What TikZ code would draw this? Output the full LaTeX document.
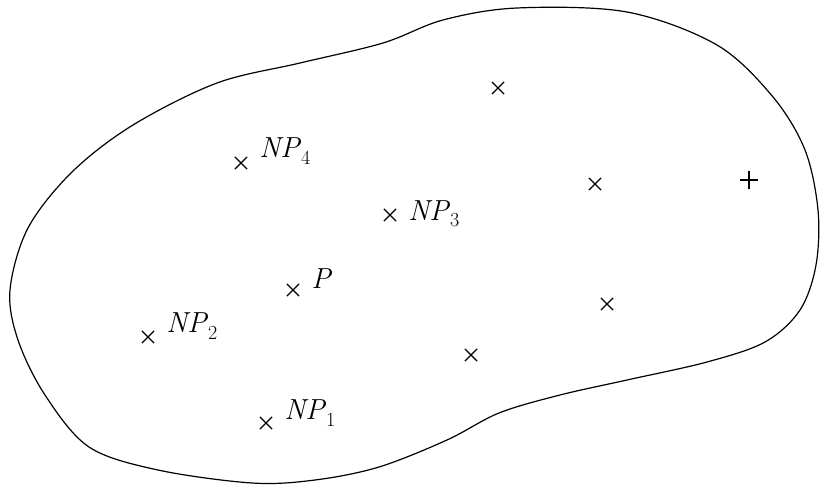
\documentclass[tikz,border=0pt]{standalone}
\usepackage{amsmath,amssymb}
\usetikzlibrary{shapes.misc, positioning}
\newcommand{\ptname}[2]{\textit{#1}\raisebox{-0.22em}{\fontsize{20}{20}\selectfont #2}}

\begin{document}
\begin{tikzpicture}[x=1pt, y=-1pt, node distance=11pt,
  pt/.style={cross out, draw, line width=1.2pt, minimum size=11pt, inner sep=0pt},
  lbl/.style={font=\fontsize{29}{32}\selectfont, inner sep=1pt}]
\useasboundingbox (0,0) rectangle (820,490);
% region boundary
\draw[line width=1.2pt] plot[smooth cycle, tension=0.55] coordinates {
  (300,63) (383,43) (443,20) (517,8) (627,12) (717,45) (773,97) (805,150)
  (818,210) (816,265) (800,310) (765,342) (707,362) (627,380) (560,395)
  (499,413) (447,440) (379,467) (315,480) (252,483) (158,470) (89,447)
  (45,395) (18,340) (10,290) (28,228) (72,172) (133,125) (217,83)};
% points
\node[pt] (np4) at (241,163) {};
\node[pt] (np3) at (390,215) {};
\node[pt] (p) at (293,290) {};
\node[pt] (np2) at (148,337) {};
\node[pt] (np1) at (266,423) {};
\node[pt] (q1) at (498,88) {};
\node[pt] (q2) at (595,184) {};
\node[pt] (q3) at (607,304) {};
\node[pt] (q4) at (471,355) {};
\node[pt, rotate=45] (q5) at (749,180) {};
% labels
\node[lbl, right=of np4, yshift=12pt] {\ptname{NP}{4}};
\node[lbl, right=of np3, yshift=1pt] {\ptname{NP}{3}};
\node[lbl, right=of p, yshift=8pt] {\ptname{P}{}};
\node[lbl, right=of np2, yshift=11pt] {\ptname{NP}{2}};
\node[lbl, right=of np1, yshift=10pt] {\ptname{NP}{1}};
\end{tikzpicture}
\end{document}
